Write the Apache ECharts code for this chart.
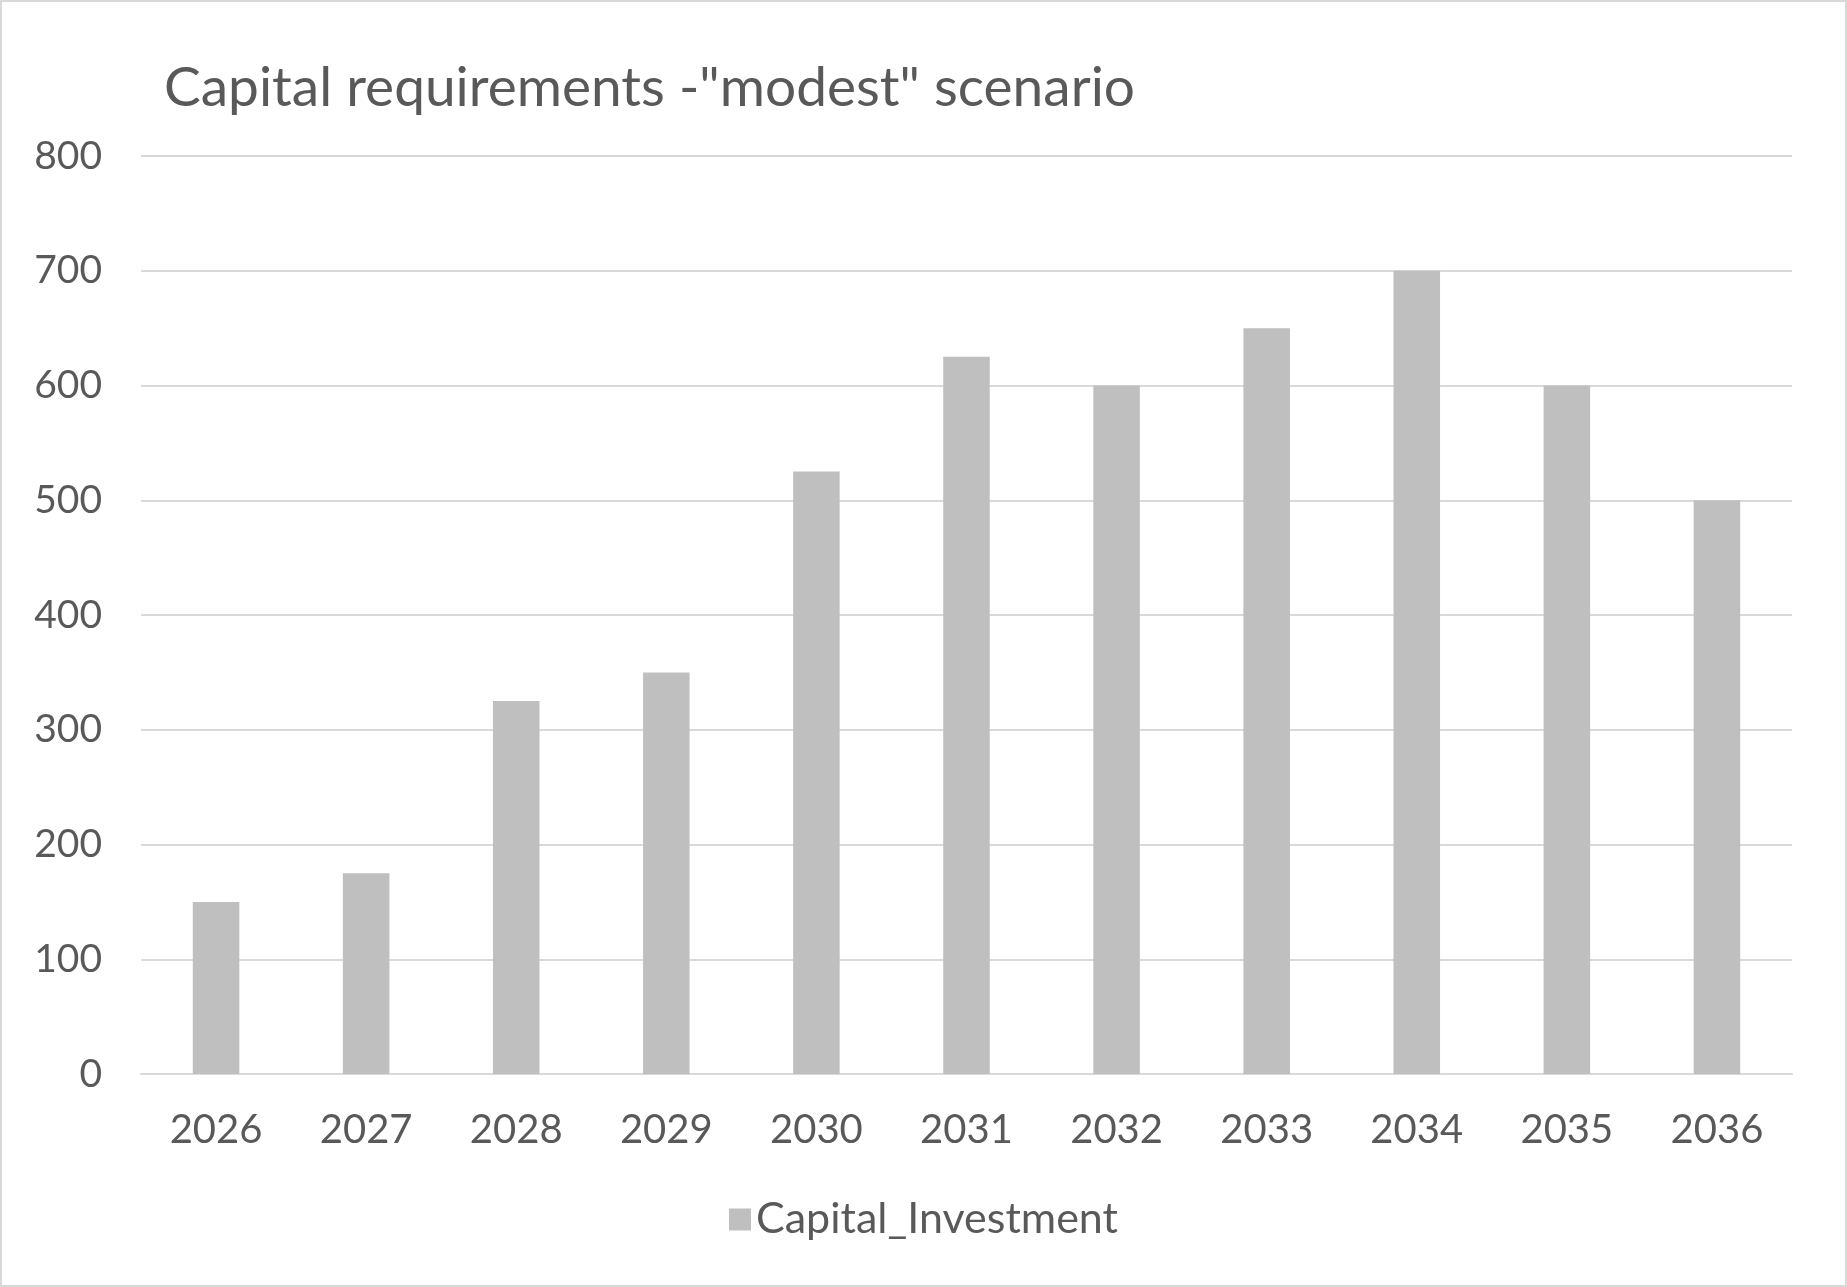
<!DOCTYPE html>
<html>
<head>
<meta charset="utf-8">
<script src="https://cdn.jsdelivr.net/npm/echarts@6/dist/echarts.min.js"></script>
<style>
html,body{margin:0;padding:0;background:#fff;}
#chart{width:1847px;height:1287px;box-sizing:border-box;border:2px solid #d9d9d9;}
</style>
</head>
<body>
<div id="chart"></div>
<script>
const titleText = 'Capital requirements -"modest" scenario';
const categories = ['2026','2027','2028','2029','2030','2031','2032','2033','2034','2035','2036'];
const seriesName = 'Capital_Investment';
const capitalInvestment = [150,175,325,350,525,625,600,650,700,600,500];
const yTicks = [0,100,200,300,400,500,600,700,800];

const FONT = 'Lato';
const TEXT = '#595959';
const chart = echarts.init(document.getElementById('chart'), null, {renderer:'canvas'});
chart.setOption({
  backgroundColor:'#ffffff',
  animation:false,
  title:{
    text:titleText, left:157, top:54,
    textStyle:{fontFamily:FONT,fontSize:55,fontWeight:'normal',color:TEXT}
  },
  legend:{
    data:[seriesName], bottom:39, left:'center',
    icon:'rect', itemWidth:22, itemHeight:22, itemGap:10,
    textStyle:{fontFamily:FONT,fontSize:43,color:TEXT}
  },
  grid:{left:139,right:53,top:154,bottom:211,containLabel:false},
  xAxis:{
    type:'category', data:categories,
    axisLine:{show:true,lineStyle:{color:'#d9d9d9',width:2}},
    axisTick:{show:false},
    axisLabel:{fontFamily:FONT,fontSize:40,color:TEXT,margin:36}
  },
  yAxis:{
    type:'value', min:yTicks[0], max:yTicks[yTicks.length-1], interval:100,
    axisLine:{show:false}, axisTick:{show:false},
    splitLine:{lineStyle:{color:'#d9d9d9',width:2}},
    axisLabel:{fontFamily:FONT,fontSize:39,color:TEXT,margin:39}
  },
  series:[{
    name:seriesName, type:'bar', data:capitalInvestment,
    barWidth:'31%', itemStyle:{color:'#bfbfbf'}
  }]
});
</script>
</body>
</html>
